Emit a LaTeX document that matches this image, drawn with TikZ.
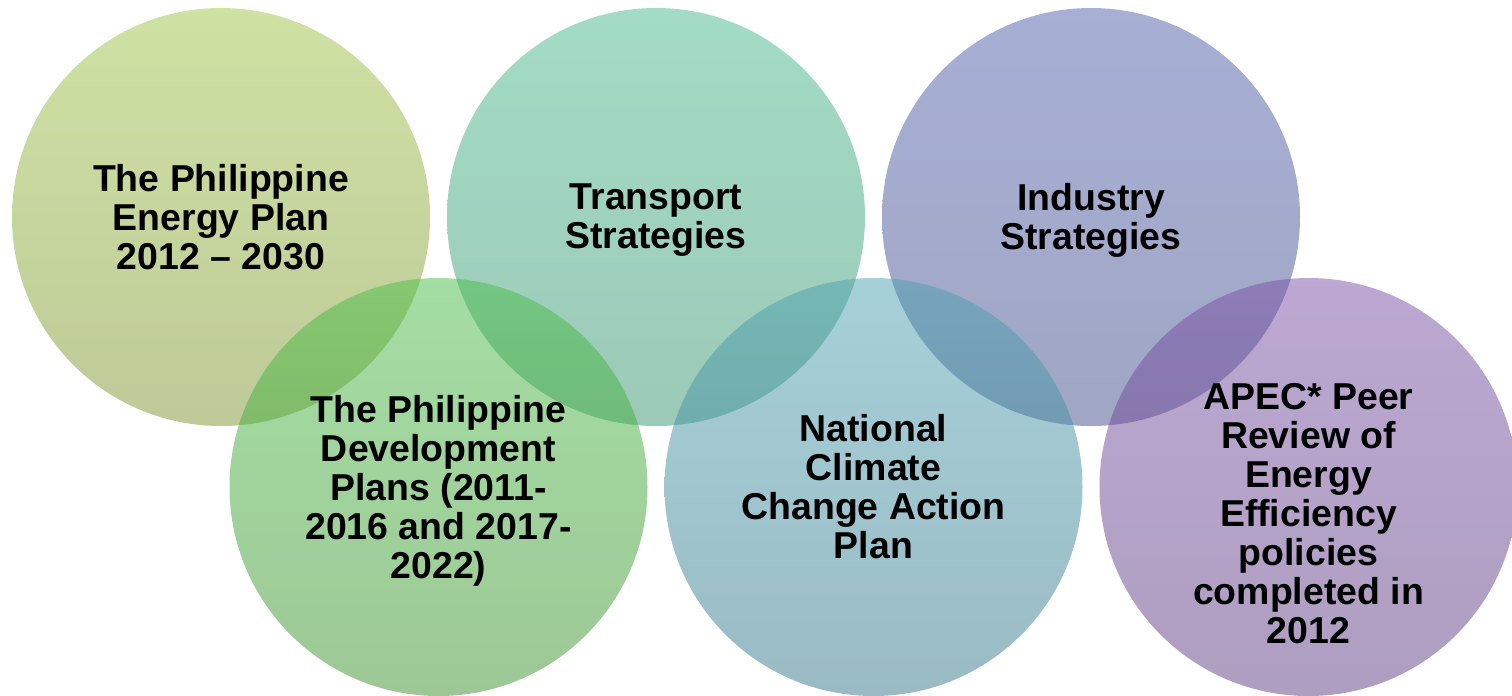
\documentclass[tikz,border=0pt]{standalone}
\usepackage{fontspec}
\setmainfont{Liberation Sans}
\usepackage{tikz}

\definecolor{limetop}{RGB}{159,195,71}
\definecolor{limebot}{RGB}{125,149,49}
\definecolor{teatop}{RGB}{71,185,139}
\definecolor{teabot}{RGB}{57,149,113}
\definecolor{indtop}{RGB}{79,95,171}
\definecolor{indbot}{RGB}{65,77,137}
\definecolor{devtop}{RGB}{73,189,71}
\definecolor{devbot}{RGB}{59,145,45}
\definecolor{clitop}{RGB}{77,161,177}
\definecolor{clibot}{RGB}{53,119,137}
\definecolor{apetop}{RGB}{121,81,165}
\definecolor{apebot}{RGB}{93,61,129}

\begin{document}
\begin{tikzpicture}[every node/.style={font=\bfseries\fontsize{21.3}{22.2}\selectfont}]
        \tikzset{bubble/.style={circle, minimum size=8.36cm, inner sep=0pt, fill opacity=0.5}}
        \useasboundingbox (0,0) rectangle (30.24,-13.9);

        \node[bubble, top color=limetop, bottom color=limebot] (energy) at (4.42,-4.34) {};
        \node[bubble, top color=teatop, bottom color=teabot] (transport) at (13.12,-4.34) {};
        \node[bubble, top color=indtop, bottom color=indbot] (industry) at (21.82,-4.34) {};
        \node[bubble, top color=devtop, bottom color=devbot] (devplan) at (8.77,-9.74) {};
        \node[bubble, top color=clitop, bottom color=clibot] (climate) at (17.47,-9.74) {};
        \node[bubble, top color=apetop, bottom color=apebot] (apec) at (26.17,-9.74) {};

        \node[align=center] (energytxt) at (energy) {The Philippine\\Energy Plan\\2012 -- 2030};
        \node[align=center] (transporttxt) at ([yshift=-0.07cm]transport.center) {Transport\\Strategies};
        \node[align=center] (industrytxt) at ([yshift=-0.07cm]industry.center) {Industry\\Strategies};
        \node[align=center] (devplantxt) at ([yshift=-0.07cm]devplan.center) {The Philippine\\Development\\Plans (2011-\\2016 and 2017-\\2022)};
        \node[align=center] (climatetxt) at (climate) {National\\Climate\\Change Action\\Plan};
        \node[align=center] (apectxt) at ([yshift=-0.54cm]apec.center) {APEC* Peer\\Review of\\Energy\\Efficiency\\policies\\completed in\\2012};
    \end{tikzpicture}
\end{document}
